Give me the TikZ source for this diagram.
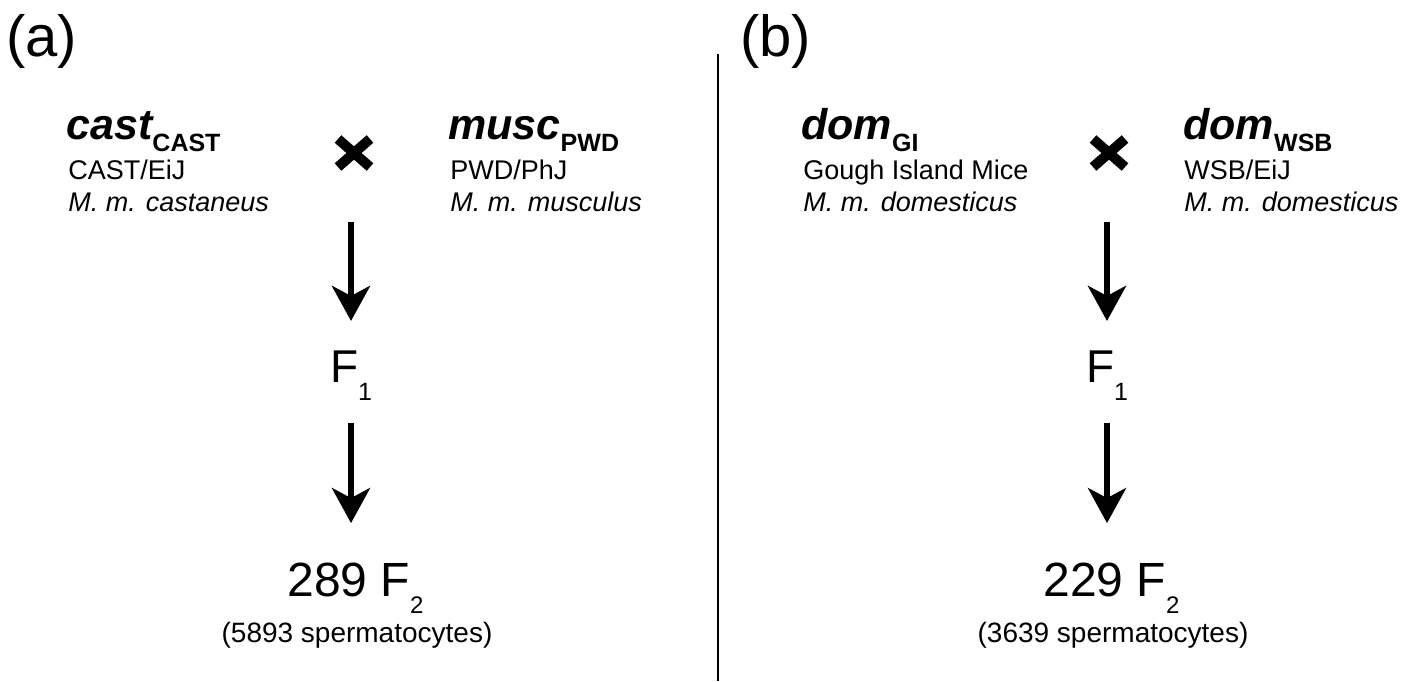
\documentclass[tikz,border=0pt]{standalone}
\usepackage{fontspec}
\setmainfont{Liberation Sans}
\usetikzlibrary{arrows.meta}

\newcommand{\fsz}[1]{\fontsize{#1}{#1}\selectfont}
\newcommand{\lowsub}[3]{\raisebox{-#2}{\fsz{#1}\upshape #3}}

\begin{document}
\begin{tikzpicture}[x=0.5pt,y=-0.5pt,
    panel/.style={anchor=base west, inner sep=0pt, font=\fsz{29}},
    strain/.style={anchor=base west, inner sep=0pt, font=\fsz{21.5}\bfseries\itshape},
    info/.style={anchor=base west, inner sep=0pt, font=\fsz{13.5}},
    gen/.style={anchor=base, inner sep=0pt, font=\fsz{23}},
    offspring/.style={anchor=base west, inner sep=0pt, font=\fsz{24}},
    count/.style={anchor=base, inner sep=0pt, font=\fsz{14}},
    arr/.style={line width=3pt, -{Stealth[length=17.5pt, width=19pt, inset=5pt]}},
    xmark/.pic={\draw[line width=5pt] (-16,-14) -- (16,14) (-16,14) -- (16,-14);}]
    \useasboundingbox (0,0) rectangle (1418,681);

    % divider
    \draw[line width=0.75pt] (718,54) -- (718,681);

    % (a) cast x musc
    \node[panel] (labA) at (6,56) {(a)};
    \node[strain] (castA) at (66,139) {cast\lowsub{12.5}{6pt}{CAST}};
    \node[info] (castStr) at (68,179) {CAST/EiJ};
    \node[info] (castSp) at (68,211) {\itshape M. m. castaneus};
    \node[strain] (muscA) at (448,139) {musc\lowsub{12.5}{6pt}{PWD}};
    \node[info] (muscStr) at (450,179) {PWD/PhJ};
    \node[info] (muscSp) at (450,211) {\itshape M. m. musculus};
    \pic at (354,153) {xmark};

    \coordinate (topA) at (351,222);
    \node[gen] (F1a) at (351,382) {F\lowsub{12.5}{9pt}{1}};
    \node[offspring] (F2a) at (287,596) {289 F\lowsub{12}{8.5pt}{2}};
    \node[count] (cntA) at (357,642) {(5893 spermatocytes)};

    \draw[arr, shorten >=14.5pt] (topA) -- (topA |- F1a.north);
    \draw[arr, shorten <=11.5pt, shorten >=19.5pt] (F1a.south) -- (F1a.south |- F2a.north);

    % (b) dom x dom
    \node[panel] (labB) at (740,56) {(b)};
    \node[strain] (domGI) at (801,139) {dom\lowsub{12.5}{6pt}{GI}};
    \node[info] (giStr) at (803,179) {Gough Island Mice};
    \node[info] (giSp) at (803,211) {\itshape M. m. domesticus};
    \node[strain] (domWSB) at (1183,139) {dom\lowsub{12.5}{6pt}{WSB}};
    \node[info] (wsbStr) at (1184,179) {WSB/EiJ};
    \node[info] (wsbSp) at (1184,211) {\itshape M. m. domesticus};
    \pic at (1109,153) {xmark};

    \coordinate (topB) at (1107,222);
    \node[gen] (F1b) at (1107,382) {F\lowsub{12.5}{9pt}{1}};
    \node[offspring] (F2b) at (1043,596) {229 F\lowsub{12}{8.5pt}{2}};
    \node[count] (cntB) at (1113,642) {(3639 spermatocytes)};

    \draw[arr, shorten >=14.5pt] (topB) -- (topB |- F1b.north);
    \draw[arr, shorten <=11.5pt, shorten >=19.5pt] (F1b.south) -- (F1b.south |- F2b.north);
\end{tikzpicture}
\end{document}
